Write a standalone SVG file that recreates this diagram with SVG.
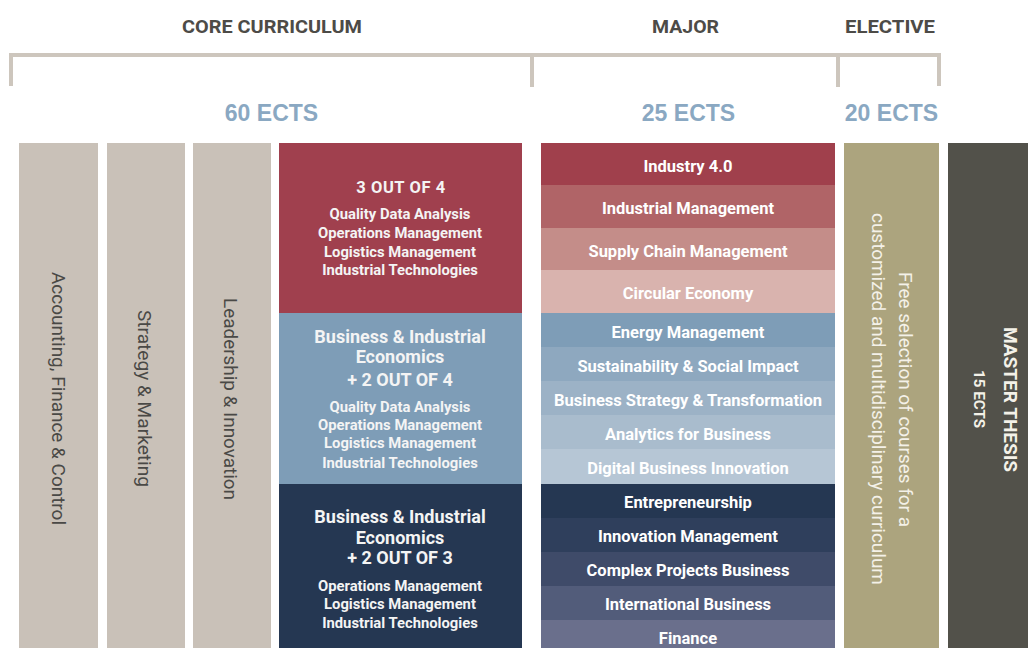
<svg xmlns="http://www.w3.org/2000/svg" width="1028" height="648" viewBox="0 0 1028 648">
<style>
.hd{font-family:Roboto,"Liberation Sans",sans-serif;font-weight:bold;font-size:19px;fill:#4d4b47;text-anchor:middle}
.ects{font-family:"Liberation Sans",Arial,sans-serif;font-weight:bold;font-size:23px;fill:#8aa8c2;text-anchor:middle}
.br{stroke:#cdc6bd;stroke-width:4;fill:none}
.vt{font-family:Roboto,"Liberation Sans",sans-serif;font-size:19px;fill:#4a4946;text-anchor:middle}
.vw{font-family:Roboto,"Liberation Sans",sans-serif;font-size:19px;fill:#f4f1e8;text-anchor:middle}
.mj{font-family:Roboto,"Liberation Sans",sans-serif;font-weight:bold;font-size:16.5px;fill:#ffffff;text-anchor:middle}
.bt{font-family:Roboto,"Liberation Sans",sans-serif;font-weight:bold;font-size:18px;fill:#f4f4f4;text-anchor:middle}
.bs{font-family:Roboto,"Liberation Sans",sans-serif;font-weight:bold;font-size:14.8px;fill:#f4f4f4;text-anchor:middle}
</style>
<rect width="1028" height="648" fill="#ffffff"/>
<g id="headers">
<text class="hd" x="272" y="33" textLength="180" lengthAdjust="spacingAndGlyphs">CORE CURRICULUM</text>
<text class="hd" x="685.5" y="33" textLength="67" lengthAdjust="spacingAndGlyphs">MAJOR</text>
<text class="hd" x="890" y="33" textLength="90" lengthAdjust="spacingAndGlyphs">ELECTIVE</text>
<text class="ects" x="271.5" y="121">60 ECTS</text>
<text class="ects" x="688.5" y="121">25 ECTS</text>
<text class="ects" x="891.5" y="121">20 ECTS</text>
</g>
<g id="brackets">
<path class="br" d="M11,86 V55 H939 V86"/>
<path class="br" d="M532,55 V87"/>
<path class="br" d="M838,55 V87"/>
</g>
<g id="core-accounting">
<rect x="19" y="143" width="79" height="505" fill="#c9c1b8"/>
<text class="vt" transform="translate(58,398.5) rotate(90)" y="6" textLength="253" lengthAdjust="spacingAndGlyphs">Accounting, Finance &amp; Control</text>
</g>
<g id="core-strategy">
<rect x="107" y="143" width="78" height="505" fill="#c9c1b8"/>
<text class="vt" transform="translate(144,398.5) rotate(90)" y="6" textLength="177" lengthAdjust="spacingAndGlyphs">Strategy &amp; Marketing</text>
</g>
<g id="core-leadership">
<rect x="193" y="143" width="78" height="505" fill="#c9c1b8"/>
<text class="vt" transform="translate(230,399) rotate(90)" y="6" textLength="202" lengthAdjust="spacingAndGlyphs">Leadership &amp; Innovation</text>
</g>
<g id="core-red">
<rect x="279" y="143" width="243" height="170" fill="#a0404e"/>
<text class="bt" x="401" y="193" style="font-size:16.5px;letter-spacing:0.6px">3 OUT OF 4</text>
<text class="bs" x="400" y="219">Quality Data Analysis</text>
<text class="bs" x="400" y="238">Operations Management</text>
<text class="bs" x="400" y="257">Logistics Management</text>
<text class="bs" x="400" y="275">Industrial Technologies</text>
</g>
<g id="core-blue">
<rect x="279" y="313" width="243" height="171" fill="#7e9db7"/>
<text class="bt" x="400" y="343">Business &amp; Industrial</text>
<text class="bt" x="400" y="363">Economics</text>
<text class="bt" x="400" y="386">+ 2 OUT OF 4</text>
<text class="bs" x="400" y="412">Quality Data Analysis</text>
<text class="bs" x="400" y="430">Operations Management</text>
<text class="bs" x="400" y="448">Logistics Management</text>
<text class="bs" x="400" y="468">Industrial Technologies</text>
</g>
<g id="core-navy">
<rect x="279" y="484" width="243" height="164" fill="#253752"/>
<text class="bt" x="400" y="523">Business &amp; Industrial</text>
<text class="bt" x="400" y="544">Economics</text>
<text class="bt" x="400" y="564">+ 2 OUT OF 3</text>
<text class="bs" x="400" y="591">Operations Management</text>
<text class="bs" x="400" y="609">Logistics Management</text>
<text class="bs" x="400" y="628">Industrial Technologies</text>
</g>
<g id="major">
<rect x="541" y="143" width="294" height="42" fill="#a0404c"/>
<rect x="541" y="185" width="294" height="43" fill="#b06467"/>
<rect x="541" y="228" width="294" height="42" fill="#c48d89"/>
<rect x="541" y="270" width="294" height="43" fill="#d9b3ae"/>
<rect x="541" y="313" width="294" height="34" fill="#7e9db7"/>
<rect x="541" y="347" width="294" height="34" fill="#8ea8bf"/>
<rect x="541" y="381" width="294" height="34" fill="#9cb2c6"/>
<rect x="541" y="415" width="294" height="34" fill="#a9bccd"/>
<rect x="541" y="449" width="294" height="35" fill="#b6c6d5"/>
<rect x="541" y="484" width="294" height="34" fill="#253752"/>
<rect x="541" y="518" width="294" height="34" fill="#2f3f5c"/>
<rect x="541" y="552" width="294" height="34" fill="#3f4b69"/>
<rect x="541" y="586" width="294" height="34" fill="#525c7a"/>
<rect x="541" y="620" width="294" height="28" fill="#6a6f8c"/>
<text class="mj" x="688" y="172">Industry 4.0</text>
<text class="mj" x="688" y="214">Industrial Management</text>
<text class="mj" x="688" y="257">Supply Chain Management</text>
<text class="mj" x="688" y="299">Circular Economy</text>
<text class="mj" x="688" y="338">Energy Management</text>
<text class="mj" x="688" y="372">Sustainability &amp; Social Impact</text>
<text class="mj" x="688" y="406">Business Strategy &amp; Transformation</text>
<text class="mj" x="688" y="440">Analytics for Business</text>
<text class="mj" x="688" y="474">Digital Business Innovation</text>
<text class="mj" x="688" y="508">Entrepreneurship</text>
<text class="mj" x="688" y="542">Innovation Management</text>
<text class="mj" x="688" y="576">Complex Projects Business</text>
<text class="mj" x="688" y="610">International Business</text>
<text class="mj" x="688" y="644">Finance</text>
</g>
<g id="elective">
<rect x="844" y="143" width="95" height="505" fill="#aca47e"/>
<text class="vw" transform="translate(905,399.5) rotate(90)" y="6" textLength="255" lengthAdjust="spacingAndGlyphs">Free selection of courses for a</text>
<text class="vw" transform="translate(878,399) rotate(90)" y="6" textLength="372" lengthAdjust="spacingAndGlyphs">customized and multidisciplinary curriculum</text>
</g>
<g id="master-thesis">
<rect x="948" y="143" width="80" height="505" fill="#52514a"/>
<text class="vw" transform="translate(1010,399.5) rotate(90)" y="6" style="font-weight:bold" textLength="145" lengthAdjust="spacingAndGlyphs">MASTER THESIS</text>
<text class="vw" transform="translate(979,399) rotate(90)" y="5" style="font-weight:bold;font-size:15px" textLength="58" lengthAdjust="spacingAndGlyphs">15 ECTS</text>
</g>
</svg>
